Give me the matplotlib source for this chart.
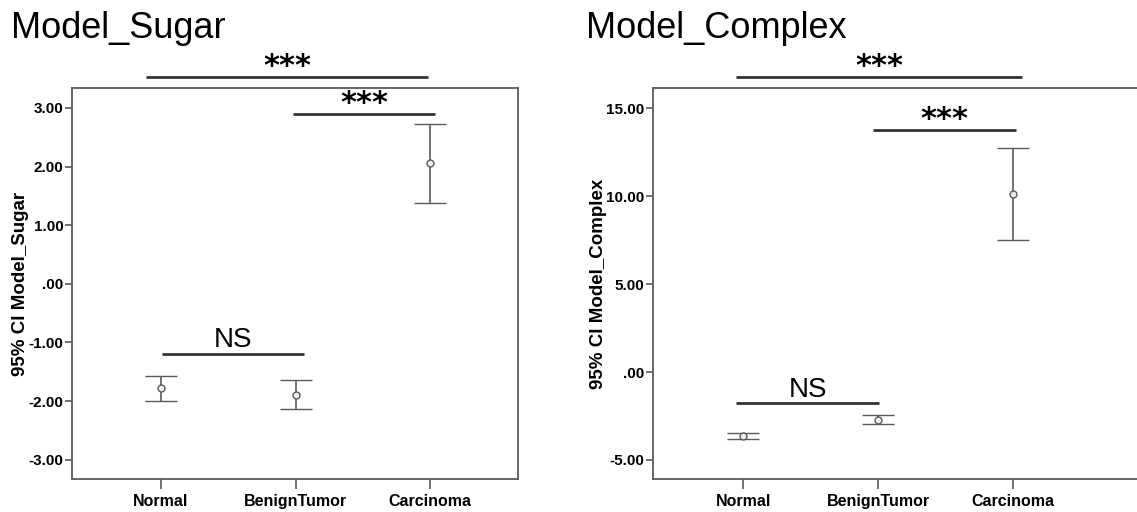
import matplotlib
matplotlib.use("Agg")
import matplotlib.pyplot as plt

plt.rcParams['font.family'] = ['Liberation Sans', 'DejaVu Sans']

categories = ["Normal", "BenignTumor", "Carcinoma"]

sugar_mean = [-1.78, -1.89, 2.06]
sugar_low = [-2.00, -2.14, 1.385]
sugar_high = [-1.58, -1.64, 2.73]
sugar_ticks = [3.0, 2.0, 1.0, 0.0, -1.0, -2.0, -3.0]
sugar_ticklabels = ["3.00", "2.00", "1.00", ".00", "-1.00", "-2.00", "-3.00"]

complex_mean = [-3.65, -2.71, 10.10]
complex_low = [-3.83, -2.95, 7.50]
complex_high = [-3.45, -2.44, 12.71]
complex_ticks = [15.0, 10.0, 5.0, 0.0, -5.0]
complex_ticklabels = ["15.00", "10.00", "5.00", ".00", "-5.00"]

# comparison annotations: (x_start, x_end, y, label)
sugar_brackets = [(0.89, 2.985, 3.53, "***"), (1.98, 3.04, 2.90, "***"), (1.007, 2.06, -1.19, "NS")]
complex_brackets = [(0.948, 3.07, 16.78, "***"), (1.963, 3.025, 13.75, "***"), (0.948, 2.01, -1.78, "NS")]

W, H = 1137, 512
fig = plt.figure(figsize=(W / 100, H / 100), dpi=100)

ax1 = fig.add_axes([72 / W, 1 - 479 / H, (518 - 72) / W, (479 - 88) / H])
ax2 = fig.add_axes([653 / W, 1 - 479 / H, (W - 653) / W + 0.002, (479 - 88) / H])

gray = "#5a5a5a"


def draw(ax, mean, low, high, ticks, ticklabels, xlim, ylim, ylabel, title, brackets, title_x):
    x = [1, 2, 3]
    yerr = [[m - l for m, l in zip(mean, low)], [h - m for m, h in zip(mean, high)]]
    ax.errorbar(x, mean, yerr=yerr, fmt='o', color=gray, ecolor=gray, elinewidth=1.2,
                capsize=11.5, capthick=1.2, markersize=5, mfc='#eeeeee', mec=gray, mew=1.0)
    ax.set_xlim(*xlim)
    ax.set_ylim(*ylim)
    ax.set_xticks(x)
    ax.set_xticklabels(categories, fontsize=11.5, fontweight='bold')
    ax.set_yticks(ticks)
    ax.set_yticklabels(ticklabels, fontsize=11, fontweight='bold')
    ax.tick_params(axis='y', length=5, width=1.2, color=gray, pad=1)
    ax.tick_params(axis='x', length=7, width=1.2, color=gray, pad=4)
    for s in ax.spines.values():
        s.set_color(gray)
        s.set_linewidth(1.3)
    ax.set_ylabel(ylabel, fontsize=13.5, fontweight='bold', labelpad=-0.5)
    fig.text(title_x, 1 - 28 / H, title, fontsize=26, va='center', ha='left')
    for x0, x1, y, lab in brackets:
        ax.plot([x0, x1], [y, y], color="#333333", lw=2, clip_on=False, solid_capstyle='butt')
        if lab == "NS":
            ax.annotate(lab, xy=((x0 + x1) / 2, y), xytext=(0, 4.5), textcoords='offset points',
                        ha='center', va='baseline', fontsize=20, annotation_clip=False)
        else:
            ax.annotate(lab, xy=((x0 + x1) / 2, y), xytext=(0, 1.5), textcoords='offset points',
                        ha='center', va='baseline', fontsize=22, family='DejaVu Sans',
                        fontweight='bold', annotation_clip=False)


draw(ax1, sugar_mean, sugar_low, sugar_high, sugar_ticks, sugar_ticklabels,
     (0.338, 3.654), (-3.33, 3.34), "95% CI Model_Sugar", "Model_Sugar", sugar_brackets, 11 / W)
draw(ax2, complex_mean, complex_low, complex_high, complex_ticks, complex_ticklabels,
     (0.33, 3.94), (-6.08, 16.14), "95% CI Model_Complex", "Model_Complex", complex_brackets, 586 / W)

fig.savefig("out.png", dpi=100)
